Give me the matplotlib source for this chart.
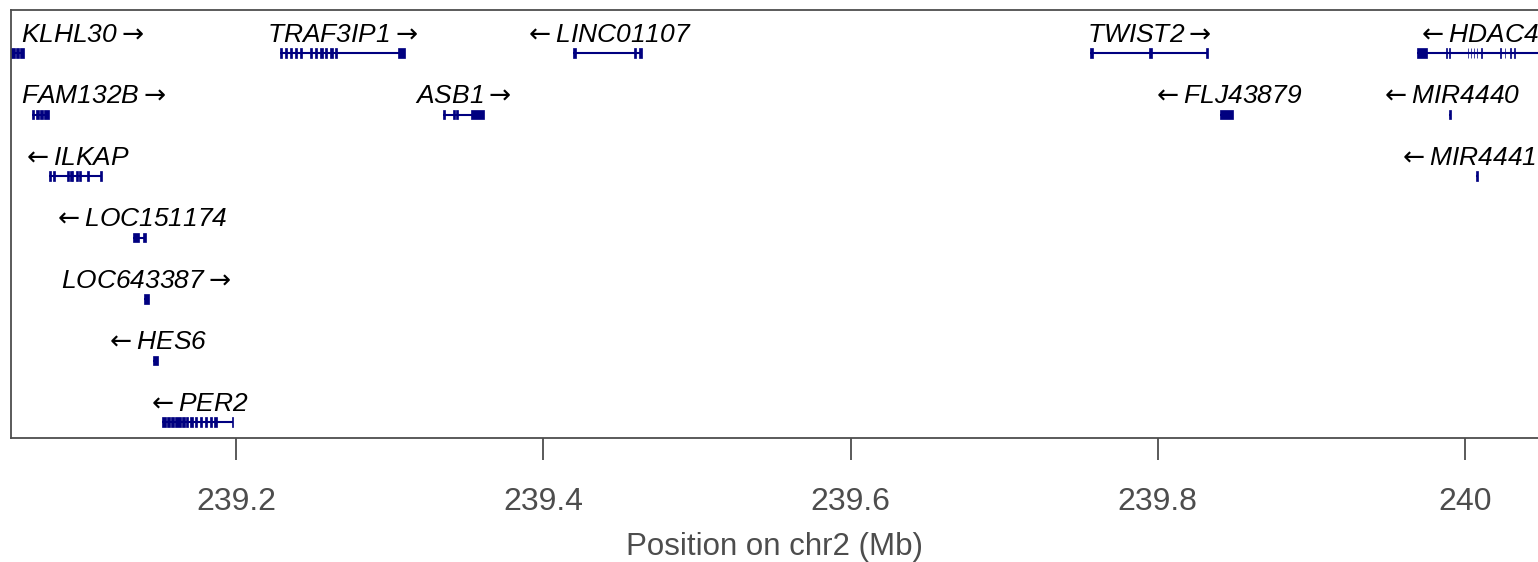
import matplotlib
matplotlib.use("Agg")
import matplotlib.pyplot as plt
from matplotlib.patches import Rectangle

plt.rcParams['font.family'] = ['Liberation Sans', 'DejaVu Sans']
plt.rcParams['mathtext.fontset'] = 'dejavusans'

# gene name, strand, row, start, end (Mb)
genes = ["KLHL30", "TRAF3IP1", "LINC01107", "TWIST2", "HDAC4",
         "FAM132B", "ASB1", "FLJ43879", "MIR4440",
         "ILKAP", "MIR4441", "LOC151174", "LOC643387", "HES6", "PER2"]
strands = ["+", "+", "-", "+", "-",
           "+", "+", "-", "-",
           "-", "-", "-", "+", "-", "-"]
rows = [1, 1, 1, 1, 1,
        2, 2, 2, 2,
        3, 3, 4, 5, 6, 7]
starts = [239.0490, 239.2286, 239.4194, 239.7559, 239.9686,
          239.0674, 239.3348, 239.8405, 239.9896,
          239.0785, 240.0072, 239.1332, 239.1401, 239.1462, 239.1520]
ends = [239.0620, 239.3100, 239.4643, 239.8327, 240.3230,
        239.0783, 239.3614, 239.8490, 239.9908,
        239.1128, 240.0084, 239.1412, 239.1434, 239.1494, 239.1980]

# exons per gene, (start, end) in Mb
exons = [
    [(239.0490, 239.0560), (239.0569, 239.0587), (239.0596, 239.0620)],
    [(239.2286, 239.2301), (239.2319, 239.2334), (239.2352, 239.2367), (239.2384, 239.2399),
     (239.2417, 239.2430), (239.2482, 239.2497), (239.2511, 239.2525), (239.2547, 239.2568),
     (239.2579, 239.2594), (239.2612, 239.2631), (239.2644, 239.2656), (239.3057, 239.3100)],
    [(239.4194, 239.4210), (239.4591, 239.4605), (239.4625, 239.4643)],
    [(239.7559, 239.7579), (239.7946, 239.7963), (239.8311, 239.8327)],
    [(239.9686, 239.9751), (239.9876, 239.9883), (239.9898, 239.9905), (240.0017, 240.0022),
     (240.0036, 240.0041), (240.0056, 240.0061), (240.0075, 240.0080), (240.0106, 240.0112),
     (240.0225, 240.0231), (240.0257, 240.0263), (240.0290, 240.0296), (240.0322, 240.0328),
     (240.3200, 240.3230)],
    [(239.0674, 239.0687), (239.0698, 239.0719), (239.0725, 239.0745), (239.0751, 239.0783)],
    [(239.3348, 239.3361), (239.3413, 239.3422), (239.3432, 239.3442), (239.3530, 239.3614)],
    [(239.8405, 239.8490)],
    [(239.9896, 239.9908)],
    [(239.0785, 239.0796), (239.0807, 239.0822), (239.0898, 239.0912), (239.0920, 239.0930),
     (239.0935, 239.0941), (239.0959, 239.0974), (239.0980, 239.0989), (239.1028, 239.1041),
     (239.1115, 239.1128)],
    [(240.0072, 240.0084)],
    [(239.1332, 239.1369), (239.1397, 239.1412)],
    [(239.1401, 239.1434)],
    [(239.1462, 239.1494)],
    [(239.1520, 239.1543), (239.1552, 239.1569), (239.1578, 239.1595), (239.1604, 239.1641),
     (239.1649, 239.1667), (239.1676, 239.1687), (239.1702, 239.1719), (239.1733, 239.1746),
     (239.1766, 239.1779), (239.1798, 239.1811), (239.1831, 239.1844), (239.1857, 239.1876),
     (239.1971, 239.1980)],
]

x_ticks = [239.2, 239.4, 239.6, 239.8, 240.0]
x_tick_labels = ["239.2", "239.4", "239.6", "239.8", "240"]
x_min, x_max = 239.0535, 240.0475

gene_col = "#000080"
axis_col = "#4D4D4D"

fig = plt.figure(figsize=(15.38, 5.62), dpi=100)
ax = fig.add_axes([11 / 1538, 124 / 562, 1 - 11 / 1538, 428 / 562])
ax.set_xlim(x_min, x_max)
ax.set_ylim(7.26, 0.30)

for i, g in enumerate(genes):
    r = rows[i]
    ax.plot([starts[i], ends[i]], [r, r], color=gene_col, lw=1.5, solid_capstyle='butt')
    for (s, e) in exons[i]:
        ax.add_patch(Rectangle((s, r - 0.075), e - s, 0.15, facecolor=gene_col,
                               edgecolor=gene_col, lw=0.5))

# gene labels, centred on the visible part of each gene, kept inside the panel
fig.canvas.draw()
renderer = fig.canvas.get_renderer()
ax_bb = ax.get_window_extent(renderer)
px_per_mb = ax_bb.width / (x_max - x_min)
for i, g in enumerate(genes):
    if strands[i] == "+":
        label = g + r"$\rightarrow$"
    else:
        label = r"$\leftarrow$" + g
    vs, ve = max(starts[i], x_min), min(ends[i], x_max)
    t = ax.text((vs + ve) / 2, rows[i] - 0.18, label, ha='center', va='baseline',
                fontsize=19, style='italic', color='black')
    bb = t.get_window_extent(renderer)
    if bb.x0 < ax_bb.x0 + 10:
        t.set_x(t.get_position()[0] + (ax_bb.x0 + 10 - bb.x0) / px_per_mb)
    elif bb.x1 > ax_bb.x1 - 2 and ends[i] <= x_max:
        t.set_x(t.get_position()[0] - (bb.x1 - ax_bb.x1 + 2) / px_per_mb)

ax.set_xticks(x_ticks)
ax.set_xticklabels(x_tick_labels)
ax.set_yticks([])
ax.tick_params(axis='x', length=16, width=1.3, color=axis_col, labelcolor=axis_col,
               labelsize=23, pad=19)
ax.set_xlabel("Position on chr2 (Mb)", fontsize=22.5, color=axis_col, labelpad=11)
ax.spines['right'].set_visible(False)
for side in ['left', 'top', 'bottom']:
    ax.spines[side].set_color(axis_col)
    ax.spines[side].set_linewidth(1.3)

fig.savefig("out.png", dpi=100)
